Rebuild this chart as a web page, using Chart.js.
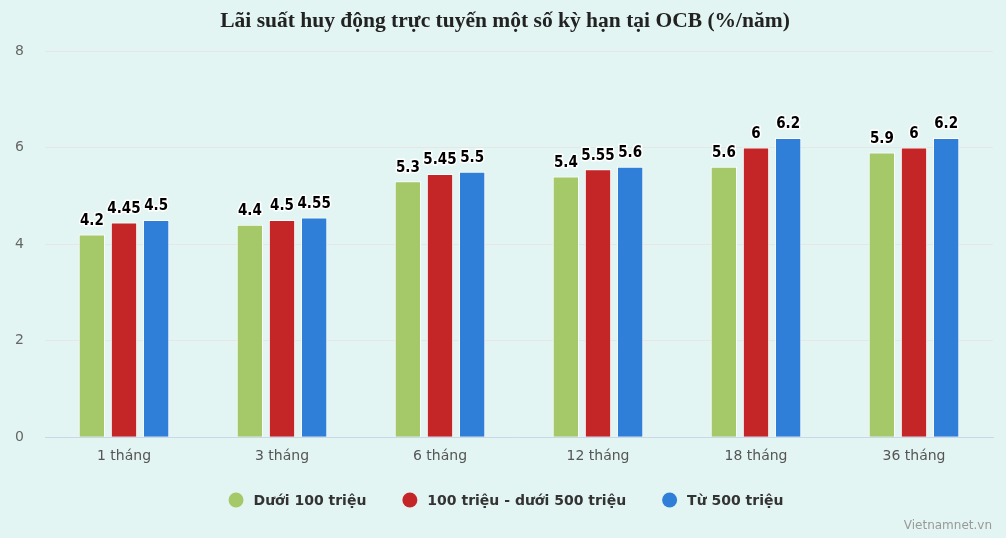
<!DOCTYPE html>
<html>
<head>
<meta charset="utf-8">
<script src="https://cdn.jsdelivr.net/npm/chart.js@4"></script>
<style>
  body { margin: 0; background: #e3f5f2; }
  #wrap { width: 1006px; height: 538px; position: relative; }
</style>
</head>
<body>
<div id="wrap"><canvas id="rateChart"></canvas></div>
<script>
const chartTitle = "Lãi suất huy động trực tuyến một số kỳ hạn tại OCB (%/năm)";
const categories = ["1 tháng", "3 tháng", "6 tháng", "12 tháng", "18 tháng", "36 tháng"];
const seriesNames = ["Dưới 100 triệu", "100 triệu - dưới 500 triệu", "Từ 500 triệu"];
const under100 = [4.2, 4.4, 5.3, 5.4, 5.6, 5.9];
const from100to500 = [4.45, 4.5, 5.45, 5.55, 6, 6];
const over500 = [4.5, 4.55, 5.5, 5.6, 6.2, 6.2];
const yTicks = [0, 2, 4, 6, 8];

const colors = ["#a5c969", "#c42527", "#2f7ed8"];

// Draw value labels above each bar (black with white halo)
const valueLabels = {
    id: "valueLabels",
    afterDatasetsDraw(chart) {
        const ctx = chart.ctx;
        ctx.save();
        ctx.font = "bold 15px 'DejaVu Sans Condensed', 'DejaVu Sans', sans-serif";
        ctx.textAlign = "center";
        ctx.textBaseline = "bottom";
        ctx.lineJoin = "round";
        chart.data.datasets.forEach((ds, i) => {
            chart.getDatasetMeta(i).data.forEach((bar, j) => {
                const txt = String(ds.data[j]);
                ctx.lineWidth = 3;
                ctx.strokeStyle = "#ffffff";
                ctx.strokeText(txt, bar.x, bar.y - 6);
                ctx.fillStyle = "#000000";
                ctx.fillText(txt, bar.x, bar.y - 6);
            });
        });
        ctx.restore();
    }
};

// Background, title, legend row and source credit
const decor = {
    id: "decor",
    beforeDraw(chart) {
        const ctx = chart.ctx;
        ctx.save();
        ctx.fillStyle = "#e3f5f2";
        ctx.fillRect(0, 0, chart.width, chart.height);
        ctx.restore();
    },
    afterDraw(chart) {
        const ctx = chart.ctx;
        ctx.save();

        // title
        ctx.font = "bold 21.5px 'Liberation Serif', serif";
        ctx.fillStyle = "#222222";
        ctx.textAlign = "center";
        ctx.textBaseline = "middle";
        ctx.fillText(chartTitle, 505, 21);

        // legend
        ctx.font = "bold 14px 'DejaVu Sans', sans-serif";
        ctx.textAlign = "left";
        const r = 7.5, gap = 10, itemGap = 36, legendY = 500;
        const widths = seriesNames.map(n => ctx.measureText(n).width);
        const total = widths.reduce((a, w) => a + w + 2 * r + gap, 0) + itemGap * (seriesNames.length - 1);
        let x = 506 - total / 2;
        seriesNames.forEach((name, i) => {
            ctx.beginPath();
            ctx.arc(x + r, legendY, r, 0, Math.PI * 2);
            ctx.fillStyle = colors[i];
            ctx.fill();
            ctx.fillStyle = "#333333";
            ctx.fillText(name, x + 2 * r + gap, legendY + 1);
            x += 2 * r + gap + widths[i] + itemGap;
        });

        // credit
        ctx.font = "12px 'DejaVu Sans', sans-serif";
        ctx.fillStyle = "#999999";
        ctx.textAlign = "right";
        ctx.textBaseline = "bottom";
        ctx.fillText("Vietnamnet.vn", 992, 532);
        ctx.restore();
    }
};

new Chart(document.getElementById("rateChart"), {
    type: "bar",
    data: {
        labels: categories,
        datasets: [
            { label: seriesNames[0], data: under100, backgroundColor: colors[0] },
            { label: seriesNames[1], data: from100to500, backgroundColor: colors[1] },
            { label: seriesNames[2], data: over500, backgroundColor: colors[2] }
        ].map(ds => Object.assign(ds, {
            borderColor: "#ffffff",
            borderWidth: 1,
            categoryPercentage: 0.61,
            barPercentage: 0.82
        }))
    },
    options: {
        responsive: true,
        maintainAspectRatio: false,
        animation: false,
        layout: { padding: { left: 6, right: 13, top: 51, bottom: 70 } },
        plugins: {
            title: { display: false },
            legend: { display: false },
            tooltip: { enabled: false }
        },
        scales: {
            x: {
                grid: { display: false },
                border: { color: "#ccd6eb" },
                ticks: { color: "#555555", font: { family: "'DejaVu Sans', sans-serif", size: 14 }, padding: 3 }
            },
            y: {
                min: 0,
                max: 8,
                afterBuildTicks(axis) { axis.ticks = yTicks.map(v => ({ value: v })); },
                afterFit(axis) { axis.width = 39; },
                grid: { color: "#e6e6e6", drawTicks: false },
                border: { display: false },
                ticks: { color: "#666666", font: { family: "'DejaVu Sans', sans-serif", size: 14 }, padding: 21 }
            }
        }
    },
    plugins: [decor, valueLabels]
});
</script>
</body>
</html>
